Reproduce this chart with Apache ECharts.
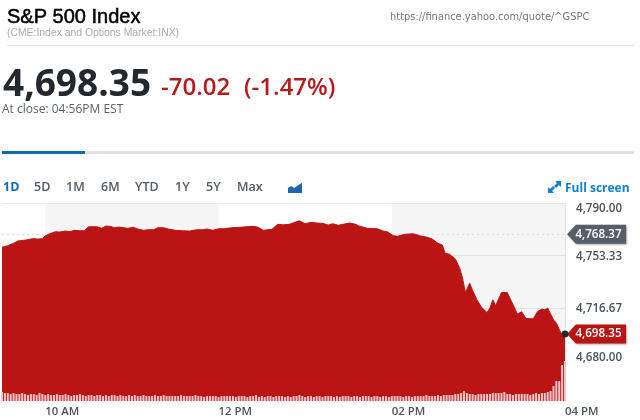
<!DOCTYPE html>
<html>
<head>
<meta charset="utf-8">
<title>S&amp;P 500 Index</title>
<script src="https://cdn.jsdelivr.net/npm/echarts@6/dist/echarts.min.js"></script>
<style>
    html, body { margin: 0; padding: 0; background: #fff; }
    #chart { width: 640px; height: 420px; }
</style>
</head>
<body>
<div id="chart"></div>
<script>
    // minutes since midnight for each price reading
    const priceTimes = [570, 574, 578, 581, 585, 588, 591, 595, 598, 600, 603, 607, 610, 614, 617, 620, 624, 627, 630, 633,
        636, 639, 642, 645, 648, 651, 657, 661, 664, 668, 671, 675, 678, 682, 685, 690, 695, 700, 705, 709,
        712, 716, 720, 724, 729, 734, 740, 744, 747, 751, 754, 757, 761, 765, 769, 773, 776, 780, 784, 788,
        792, 796, 799, 803, 806, 811, 815, 817, 823, 830, 834, 837, 841, 844, 849, 855, 860, 864, 868, 872,
        875, 877, 880, 884, 887, 889, 891, 894, 896, 899, 902, 906, 908, 910, 912, 916, 920, 923, 927, 930,
        933, 934, 938, 941, 944, 946, 948, 952, 954, 957, 959, 960];
    const prices = [4759.2, 4760.3, 4762.0, 4763.6, 4764.1, 4764.5, 4765.2, 4765.0, 4765.2, 4767.3, 4768.7, 4770.1, 4769.9, 4770.6, 4770.1, 4771.1, 4770.8, 4770.8, 4773.6, 4773.6,
        4773.6, 4772.5, 4774.1, 4773.9, 4772.9, 4773.4, 4772.5, 4773.2, 4772.0, 4771.1, 4771.5, 4771.5, 4772.9, 4772.9, 4772.0, 4771.1, 4770.8, 4770.6, 4771.5, 4771.5,
        4772.0, 4771.1, 4772.2, 4772.2, 4772.9, 4773.2, 4773.6, 4773.9, 4773.4, 4771.1, 4771.5, 4771.8, 4775.3, 4775.0, 4775.3, 4776.7, 4777.8, 4775.7, 4776.7, 4776.2,
        4776.0, 4774.8, 4775.7, 4774.6, 4775.3, 4776.2, 4775.3, 4774.3, 4772.5, 4772.2, 4770.6, 4770.1, 4767.3, 4766.9, 4768.3, 4768.7, 4767.1, 4766.4, 4765.0, 4762.0,
        4760.8, 4755.0, 4754.3, 4751.0, 4744.7, 4737.7, 4727.4, 4734.0, 4728.8, 4722.3, 4717.2, 4713.4, 4716.5, 4722.3, 4718.1, 4727.4, 4727.4, 4721.1, 4712.3, 4713.9,
        4709.2, 4709.5, 4709.0, 4714.1, 4715.8, 4715.3, 4716.5, 4708.3, 4706.0, 4699.4, 4695.5, 4698.35];

    // volume, one bar every 2 minutes from 09:30
    const volumeStart = 570;
    const volumes = [9, 8, 8, 7, 8, 7, 7, 8, 7, 6, 7, 7, 6, 8, 7, 6, 7, 6, 6, 7,
        6, 6, 7, 6, 5, 6, 6, 7, 6, 5, 6, 6, 5, 6, 6, 5, 6, 5, 6, 6,
        5, 6, 5, 5, 6, 5, 6, 5, 5, 6, 5, 5, 5, 6, 5, 5, 6, 5, 5, 5,
        5, 5, 6, 5, 5, 5, 5, 6, 5, 5, 4, 5, 5, 5, 5, 4, 5, 5, 5, 5,
        5, 4, 5, 5, 5, 4, 5, 5, 6, 4, 5, 4, 5, 5, 4, 5, 5, 5, 4, 5,
        4, 5, 5, 6, 5, 4, 5, 5, 4, 5, 5, 4, 5, 5, 5, 4, 5, 4, 5, 5,
        5, 4, 5, 5, 4, 5, 5, 5, 4, 5, 5, 4, 5, 5, 4, 5, 5, 5, 5, 4,
        5, 5, 4, 5, 5, 5, 5, 6, 5, 5, 5, 6, 5, 6, 6, 6, 6, 7, 7, 8,
        10, 8, 7, 7, 6, 7, 7, 7, 7, 7, 8, 8, 8, 8, 9, 7, 7, 6, 7, 7,
        7, 7, 7, 6, 7, 8, 7, 8, 8, 9, 10, 15, 20, 20, 36, 40];

    const priceTicks = [4790, 4753.33, 4716.67, 4680];
    const timeTicks = [600, 720, 840, 960];
    const timeLabels = {600: '10 AM', 720: '12 PM', 840: '02 PM', 960: '04 PM'};
    const shadedHours = [[600, 720], [840, 960]];
    const prevClose = 4768.37;
    const lastPrice = 4698.35;

    const red = '#bb1414';
    const blue = '#0f69b5';
    const labelFont = '"Open Sans", sans-serif';

    const fmtPrice = v => v.toLocaleString('en-US', {minimumFractionDigits: 2, maximumFractionDigits: 2});
    const tagPath = 'path://M0,10 L9,0 L60,0 L60,20 L9,20 Z';

    function text(x, y, str, font, size, weight, color, extra) {
        return {
            type: 'text', x: x, y: y, silent: true,
            style: Object.assign({
                text: str, fontFamily: font, fontSize: size, fontWeight: weight,
                fill: color, verticalAlign: 'middle'
            }, extra || {})
        };
    }
    function rule(x, y, w, h, color) {
        return {type: 'rect', silent: true, shape: {x: x, y: y, width: w, height: h}, style: {fill: color}};
    }
    function poly(points, color) {
        return {type: 'polygon', silent: true, shape: {points: points}, style: {fill: color}};
    }

    const ranges = [['1D', 3], ['5D', 34], ['1M', 66], ['6M', 101], ['YTD', 135], ['1Y', 175], ['5Y', 206], ['Max', 237]];

    const header = [
        text(7, 17, 'S&P 500 Index', '"Liberation Sans", Arial, sans-serif', 20, 'normal', '#000', {stroke: '#000', lineWidth: 0.5}),
        text(7, 33, '(CME:Index and Options Market:INX)', '"Liberation Sans", Arial, sans-serif', 10.4, 'normal', '#a9adb3'),
        text(390, 17, 'https://finance.yahoo.com/quote/^GSPC', '"DejaVu Sans", sans-serif', 9.9, 'normal', '#6d7a82'),
        rule(7, 45, 628, 1, '#e0e2e3'),
        text(3, 85, '4,698.35', labelFont, 37, 'bold', '#23282e'),
        text(161, 88, '-70.02', labelFont, 24, 600, '#b61a1a'),
        text(244, 88, '(-1.47%)', labelFont, 24, 600, '#b61a1a'),
        text(2, 110, 'At close: 04:56PM EST', labelFont, 12, 'normal', '#5b636a'),
        rule(2, 151, 632, 3, '#dde2e6'),
        rule(2, 151, 83, 3, blue),
        text(565, 189, 'Full screen', labelFont, 12, 'bold', '#0f7fd0'),
        // full screen arrows
        poly([[555, 181], [561, 181], [561, 187], [559, 185], [556, 188], [554, 186], [557, 183]], '#0f7fd0'),
        poly([[548, 193], [548, 187], [550, 189], [553, 186], [555, 188], [552, 191], [554, 193]], '#0f7fd0'),
        // mountain chart icon
        poly([[288, 193], [288, 188], [291, 186], [294, 188], [297, 186], [300, 184], [302, 183], [302, 193]], '#1f66ab')
    ];
    ranges.forEach((r, i) => {
        header.push(text(r[1], 187, r[0], labelFont, 12.5, i === 0 ? 'bold' : '600', i === 0 ? blue : '#525c64'));
    });

    const tickRich = {color: '#4a535b', fontFamily: labelFont, fontSize: 11.6, fontWeight: 600};

    const option = {
        animation: false,
        backgroundColor: '#fff',
        graphic: header,
        grid: {left: 2, right: 75, top: 203.4, bottom: 19},
        xAxis: {
            type: 'value',
            min: 570,
            max: 960,
            axisLine: {show: false},
            axisTick: {show: false},
            splitLine: {show: false},
            axisLabel: {
                customValues: timeTicks,
                align: 'left',
                margin: 5,
                color: '#4a535b',
                fontFamily: labelFont,
                fontSize: 11.4,
                fontWeight: 600,
                formatter: v => timeLabels[v]
            }
        },
        yAxis: [{
            type: 'value',
            position: 'right',
            min: 4651.3,
            max: 4790,
            axisLine: {show: true, lineStyle: {color: '#e4e8ec'}},
            axisTick: {show: false, customValues: priceTicks},
            splitLine: {show: true, lineStyle: {color: '#ebebeb'}},
            axisLabel: {
                customValues: priceTicks,
                margin: 11,
                formatter: v => (v === 4790 ? '{top|' : v === 4680 ? '{low|' : '{mid|') + fmtPrice(v) + '}',
                rich: {
                    top: Object.assign({padding: [11, 0, 0, 0]}, tickRich),
                    mid: Object.assign({padding: [2, 0, 0, 0]}, tickRich),
                    low: Object.assign({padding: [0, 0, 5, 0]}, tickRich)
                }
            }
        }, {
            type: 'value',
            min: 0,
            max: 197.6,
            show: false,
            splitLine: {show: false}
        }],
        series: [{
            name: 'backdrop',
            type: 'line',
            z: 1,
            silent: true,
            data: [],
            markArea: {
                silent: true,
                z: 1,
                itemStyle: {color: 'rgba(0,0,0,0.04)'},
                data: shadedHours.map(h => [{xAxis: h[0]}, {xAxis: h[1]}])
            },
            markLine: {
                silent: true,
                z: 1,
                symbol: 'none',
                label: {show: false},
                lineStyle: {color: '#dcdcdc', type: [2, 3], width: 1},
                data: [{yAxis: prevClose}]
            }
        }, {
            name: 'close',
            type: 'line',
            z: 2,
            showSymbol: false,
            data: priceTimes.map((t, i) => [t, prices[i]]),
            lineStyle: {color: red, width: 1},
            areaStyle: {color: red, opacity: 1, origin: 'start'},
            markPoint: {
                silent: true,
                z: 6,
                data: [{
                    coord: [960, prevClose],
                    symbol: tagPath,
                    symbolKeepAspect: false,
                    symbolSize: [59, 19],
                    symbolOffset: [31.5, 0],
                    itemStyle: {color: '#565f67', shadowBlur: 2, shadowColor: 'rgba(0,0,0,0.35)', shadowOffsetX: 1, shadowOffsetY: 1},
                    label: {show: true, position: 'inside', formatter: fmtPrice(prevClose), color: '#fff', fontFamily: labelFont, fontSize: 11.6, fontWeight: 600, offset: [2, 0]}
                }, {
                    coord: [960, lastPrice],
                    symbol: tagPath,
                    symbolKeepAspect: false,
                    symbolSize: [59, 19],
                    symbolOffset: [31.5, 0],
                    itemStyle: {color: '#bb1414', shadowBlur: 2, shadowColor: 'rgba(0,0,0,0.35)', shadowOffsetX: 1, shadowOffsetY: 1},
                    label: {show: true, position: 'inside', formatter: fmtPrice(lastPrice), color: '#fff', fontFamily: labelFont, fontSize: 11.6, fontWeight: 600, offset: [2, 0]}
                }, {
                    coord: [960, lastPrice],
                    symbol: 'circle',
                    symbolSize: 7,
                    itemStyle: {color: '#22282c'},
                    label: {show: false}
                }]
            }
        }, {
            name: 'volume',
            type: 'bar',
            z: 3,
            yAxisIndex: 1,
            barWidth: 2,
            silent: true,
            itemStyle: {color: '#f0c6ca'},
            data: volumes.map((v, i) => [volumeStart + i * 2, v])
        }]
    };

    const myChart = echarts.init(document.getElementById('chart'), null, {renderer: 'canvas'});
    myChart.setOption(option);
</script>
</body>
</html>
